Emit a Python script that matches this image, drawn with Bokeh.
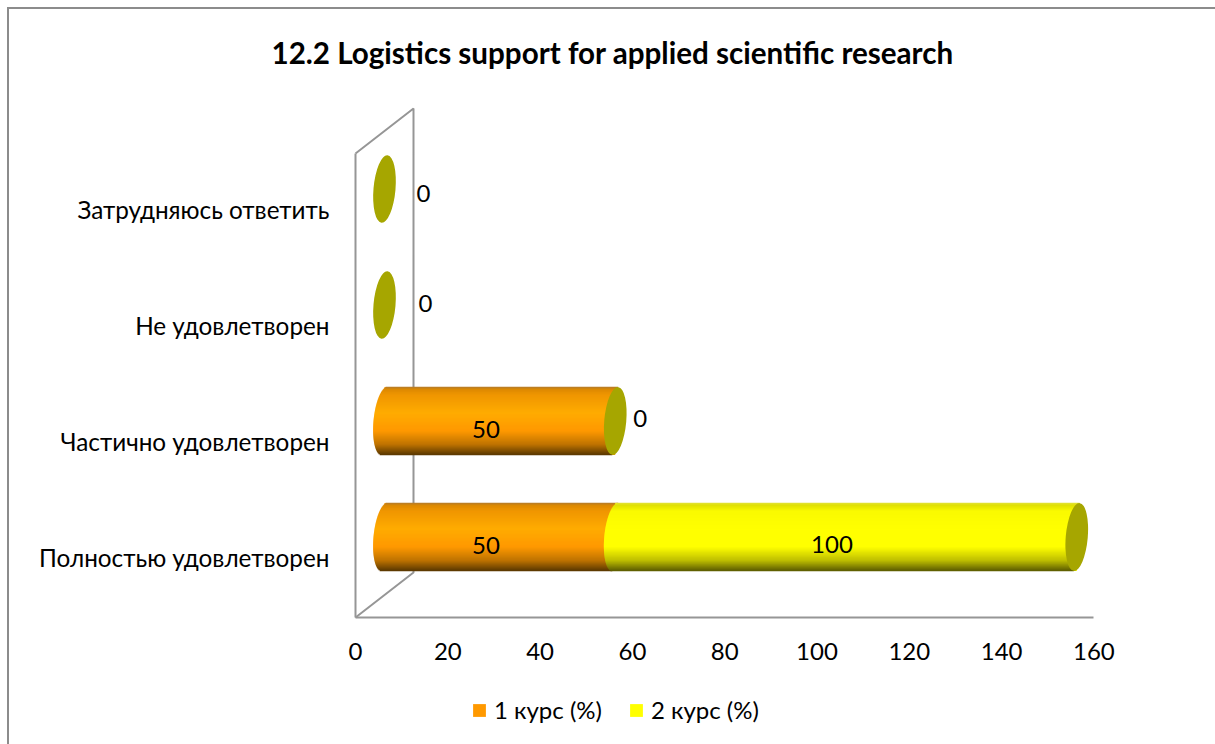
import numpy as np
from bokeh.plotting import figure
from bokeh.models import FixedTicker, Legend, LegendItem, Range1d, Title
from bokeh.core.properties import value
from bokeh.embed import file_html
from bokeh.resources import INLINE

# ---------- data ----------
categories = ["Полностью удовлетворен", "Частично удовлетворен", "Не удовлетворен", "Затрудняюсь ответить"]
course1 = [50, 50, 0, 0]
course2 = [100, 0, 0, 0]
series_names = ["1 курс (%)", "2 курс (%)"]
title_text = "12.2 Logistics support for applied scientific research"
x_ticks = [0, 20, 40, 60, 80, 100, 120, 140, 160]

# ---------- style ----------
FONT = "Lato"
GREY = "#969696"
CAP = "#A6A600"
ORANGE = "#FF9900"
YELLOW = "#FFFF00"
PX_X = 4.615              # pixels per value unit
PX_Y = 116.0              # pixels per category band
WIDTH, HEIGHT, TOP = 1215, 744, 100
ORIGIN_X, ORIGIN_Y = 355, 617                # page pixel of the value/category origin
DEPTH_X, DEPTH_Y = 58 / PX_X, 45 / PX_Y      # full 3-D depth in data units
HALF_H, HALF_W, SHEAR = 34, 11, 3 / 34       # cylinder section, pixels
LABEL_NUDGE = 2 / PX_Y                       # category labels sit slightly higher than the band centre

stops = [0, .04, .12, .38, .65, .85, 1]
orange_stops = [(176, 122, 48), (222, 138, 0), (240, 150, 0), (255, 172, 0), (255, 153, 0), (190, 115, 0), (90, 56, 0)]
yellow_stops = [(225, 225, 60), (225, 225, 0), (250, 250, 0), (255, 255, 0), (255, 255, 0), (190, 190, 0), (92, 92, 0)]


def shade(rgb_stops, t):
    return "#%02x%02x%02x" % tuple(int(np.interp(t, stops, [c[i] for c in rgb_stops])) for i in range(3))


p = figure(width=WIDTH, height=HEIGHT, frame_width=WIDTH, frame_height=HEIGHT - TOP,
           x_range=Range1d(-ORIGIN_X / PX_X, (WIDTH - ORIGIN_X) / PX_X),
           y_range=Range1d(-(HEIGHT - ORIGIN_Y) / PX_Y, (ORIGIN_Y - TOP) / PX_Y),
           output_backend="svg", toolbar_location=None,
           min_border_left=0, min_border_top=TOP, min_border_right=0, min_border_bottom=0)
p.outline_line_color = None
p.grid.visible = False
p.border_fill_color = None
p.background_fill_color = None

# chart border: only its top and left edges lie inside the picture
edge = "linear-gradient(#8c8c8c,#8c8c8c)"
p.styles = {"background": f"{edge} 7px 7px / 100% 2px no-repeat, {edge} 7px 7px / 2px 100% no-repeat"}

# walls
p.line([0, DEPTH_X, DEPTH_X, 0],
       [len(categories), len(categories) + DEPTH_Y, DEPTH_Y, 0],
       line_color=GREY, line_width=2)

# axes
xa = p.xaxis[0]
xa.fixed_location = 0
xa.ticker = FixedTicker(ticks=x_ticks)
xa.bounds = (0, 160)
xa.axis_line_color = GREY
xa.axis_line_width = 2
xa.major_tick_line_color = None
xa.minor_tick_line_color = None
xa.major_label_text_font = FONT
xa.major_label_text_font_size = "24px"
xa.major_label_text_color = "#000000"
xa.major_label_standoff = 19

ya = p.yaxis[0]
ya.fixed_location = 0
cat_ticks = [i + .5 + LABEL_NUDGE for i in range(len(categories))]
ya.ticker = FixedTicker(ticks=cat_ticks)
ya.major_label_overrides = {t: c for t, c in zip(cat_ticks, categories)}
ya.bounds = (0, len(categories))
ya.axis_line_color = GREY
ya.axis_line_width = 2
ya.major_tick_line_color = None
ya.minor_tick_line_color = None
ya.major_label_text_font = FONT
ya.major_label_text_font_size = "24.3px"
ya.major_label_text_color = "#000000"
ya.major_label_standoff = 20

# cylinders
rows = np.arange(len(categories)) + .5 + DEPTH_Y / 2
start = DEPTH_X / 2
c1 = np.array(course1, float)
c2 = np.array(course2, float)
bar_h = 2 * HALF_H / PX_Y
legend_renderers = []
for lefts, widths, col, rgb in [(0 * c1, c1, ORANGE, orange_stops), (c1, c2, YELLOW, yellow_stops)]:
    shown = [i for i in range(len(rows)) if widths[i] > 0]
    base = p.hbar(y=[rows[i] for i in shown], left=[start + lefts[i] for i in shown],
                  right=[start + lefts[i] + widths[i] for i in shown], height=bar_h,
                  fill_color=col, line_color=None)
    legend_renderers.append(base)
    ys, ls, rs, cs = [], [], [], []
    for i in shown:
        for dy in np.arange(HALF_H - .5, -HALF_H, -1.0):
            chord = HALF_W * np.sqrt(max(0, 1 - (dy / HALF_H) ** 2))
            ys.append(rows[i] + dy / PX_Y)
            ls.append(start + lefts[i] + (SHEAR * dy - chord) / PX_X)
            rs.append(start + lefts[i] + widths[i] + SHEAR * dy / PX_X)
            cs.append(shade(rgb, (HALF_H - dy) / (2 * HALF_H)))
    p.hbar(y=ys, left=ls, right=rs, height=1.35 / PX_Y, fill_color=cs, line_color=None)

# end caps of the second series
cap_x = start + c1 + c2
p.ellipse(x=cap_x, y=rows, width=2 * HALF_W, height=2 * HALF_H, width_units="screen", height_units="screen",
          angle=-5, angle_units="deg", fill_color=CAP, line_color=None)

# value labels
lab_x, lab_y, lab_t, lab_dx, lab_dy = [], [], [], [], []
zero_dx = {1: 25, 2: 41, 3: 39}
zero_dy = {1: -3, 2: -2, 3: 4}
for i in range(len(rows)):
    if c1[i] > 0:
        lab_x.append(start + c1[i] / 2); lab_y.append(rows[i]); lab_t.append(f"{course1[i]}")
        lab_dx.append(-14); lab_dy.append(8)
    if c2[i] > 0:
        lab_x.append(start + c1[i] + c2[i] / 2); lab_y.append(rows[i]); lab_t.append(f"{course2[i]}")
        lab_dx.append(-14); lab_dy.append(7)
    else:
        lab_x.append(cap_x[i]); lab_y.append(rows[i]); lab_t.append(f"{course2[i]}")
        lab_dx.append(zero_dx[i]); lab_dy.append(zero_dy[i])
p.text(x=lab_x, y=lab_y, text=lab_t, x_offset=lab_dx, y_offset=lab_dy, text_align="center",
       text_baseline="middle", text_font=value(FONT), text_font_size="24px", text_color="#000000")

# title
p.add_layout(Title(text=title_text, align="left", offset=271, text_font=FONT, text_font_size="29.6px",
                   text_font_style="bold", text_color="#000000", standoff=62, text_line_height=1.0), "above")

# legend
legend = Legend(items=[LegendItem(label=series_names[0], renderers=[legend_renderers[0]]),
                       LegendItem(label=series_names[1], renderers=[legend_renderers[1]])],
                orientation="horizontal", location=(471, 20), border_line_color=None,
                background_fill_alpha=0, glyph_width=16, glyph_height=16,
                label_text_font=FONT, label_text_font_size="24px", label_text_color="#000000",
                spacing=26, label_standoff=7, margin=0, padding=0)
p.add_layout(legend)

open("out.html", "w").write(file_html(p, INLINE))
